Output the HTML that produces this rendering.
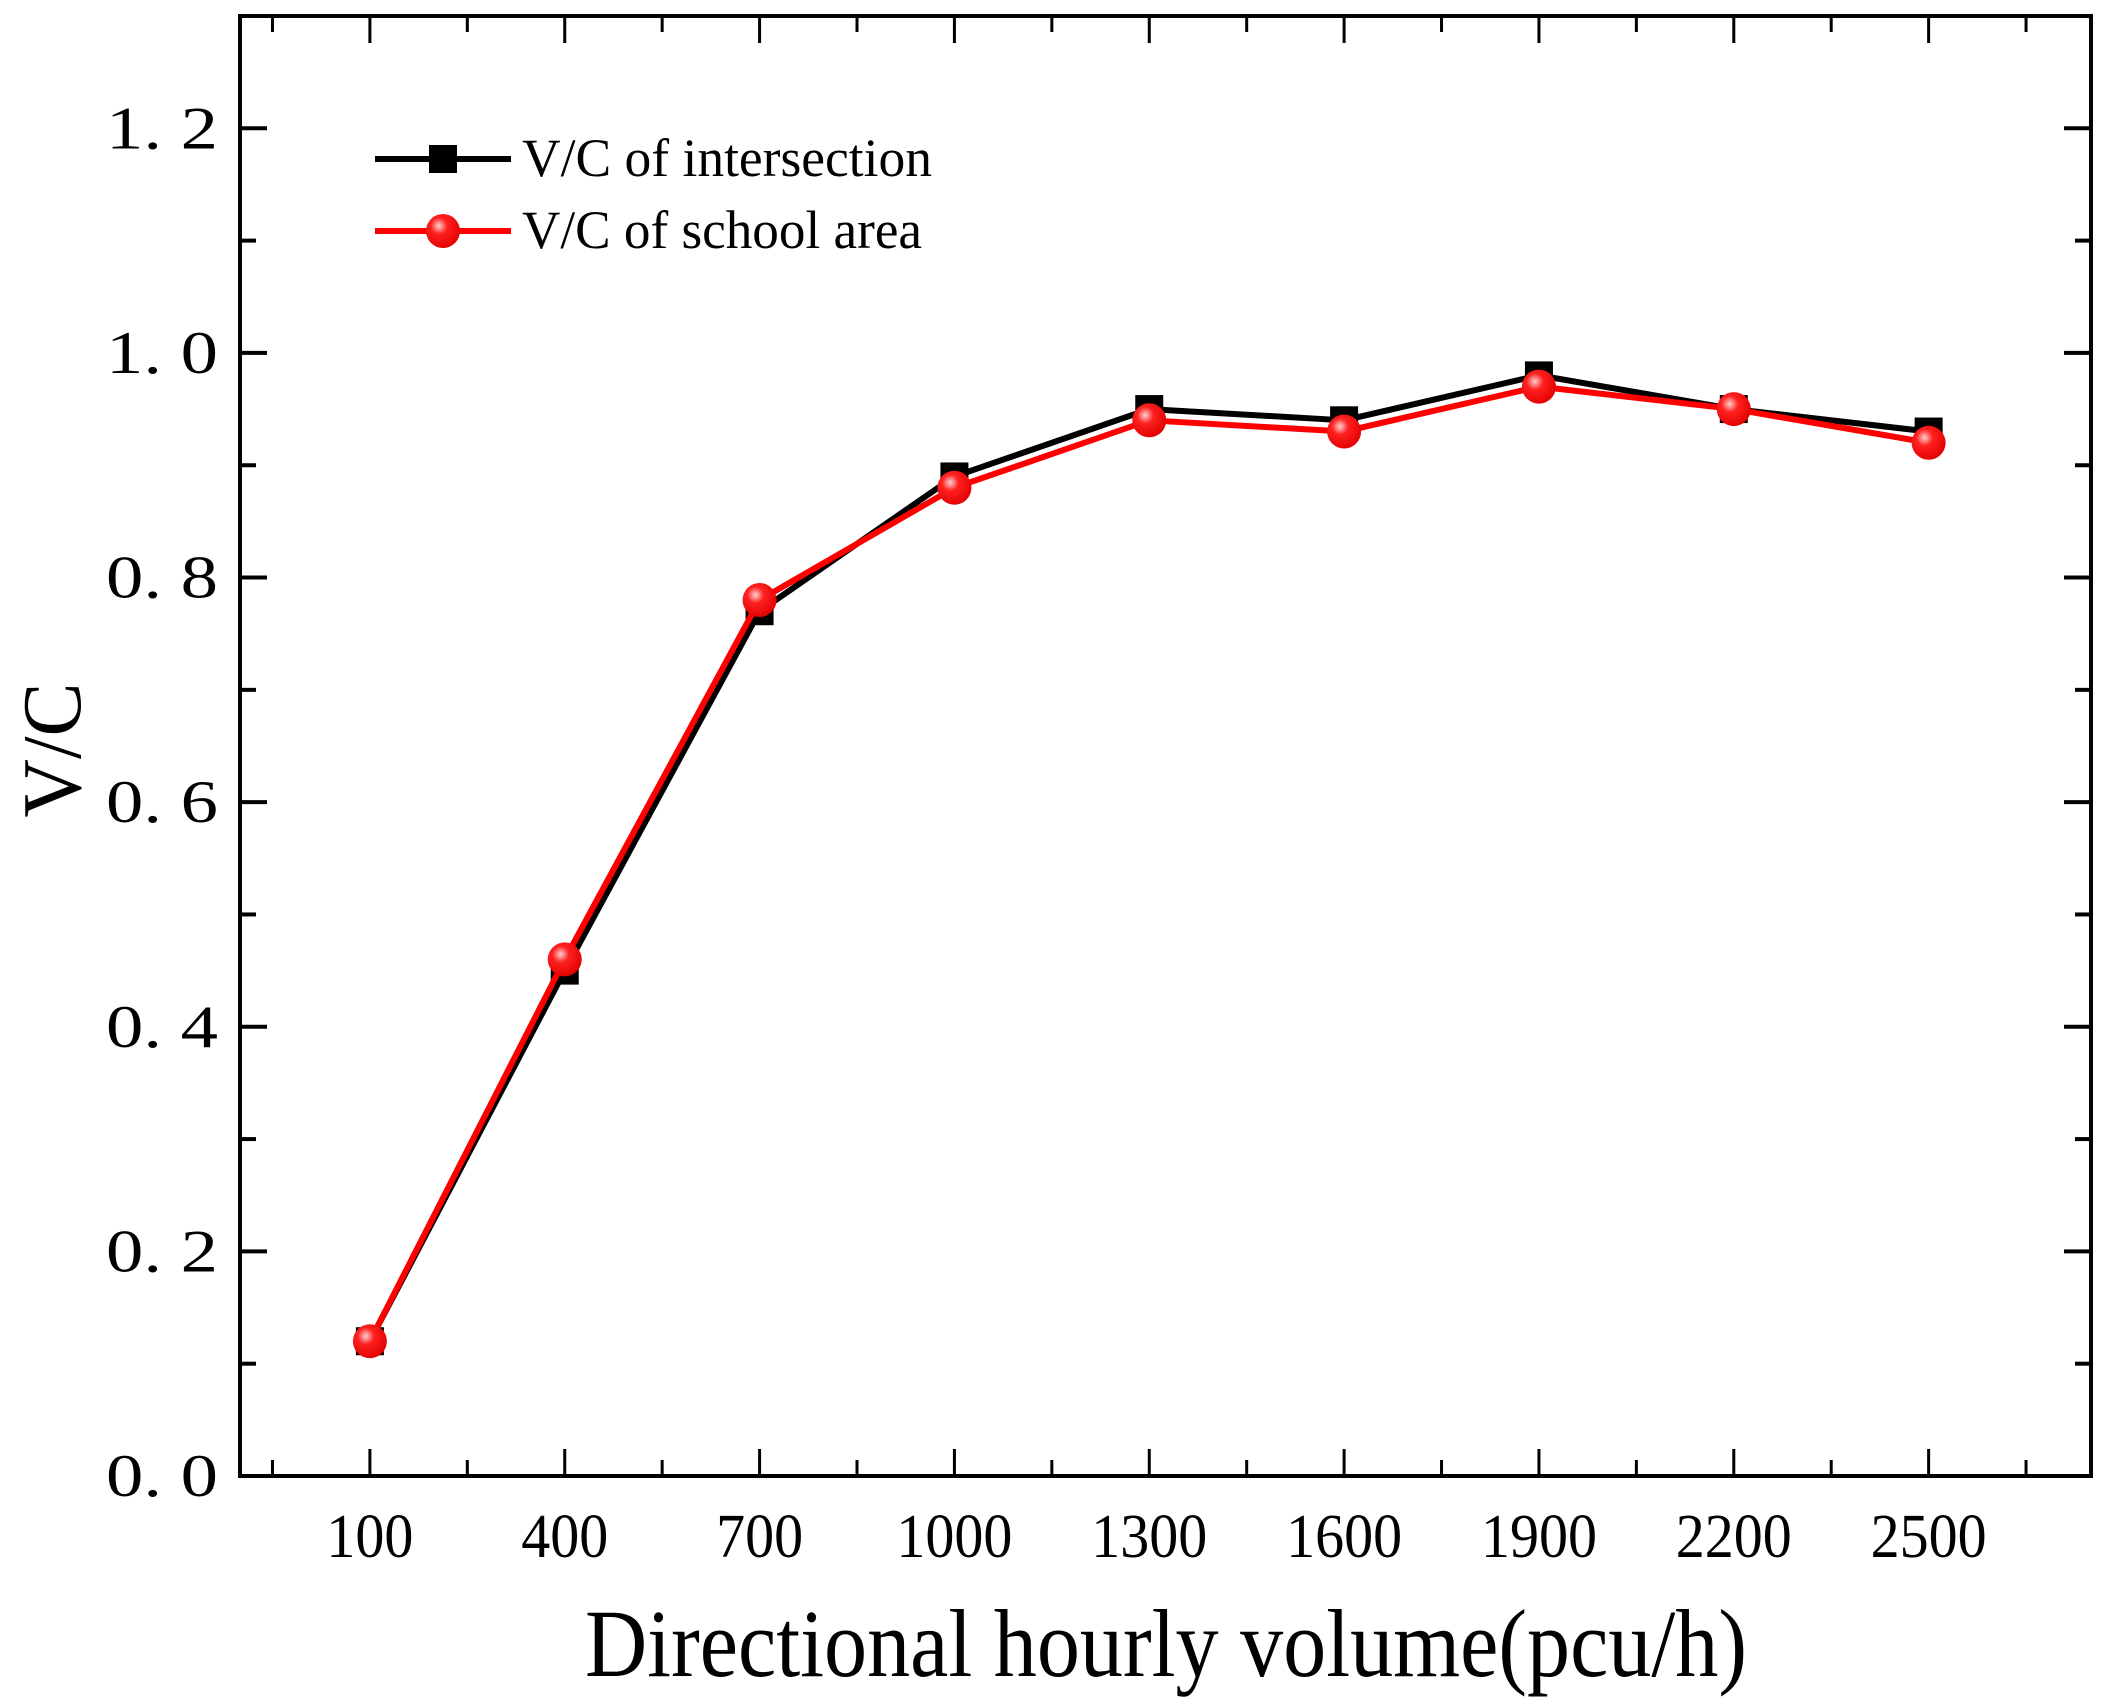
<!DOCTYPE html>
<html><head><meta charset="utf-8"><style>html,body{margin:0;padding:0;background:#fff}svg{display:block}</style></head>
<body>
<svg id="chart" width="2107" height="1702" viewBox="0 0 2107 1702" xmlns="http://www.w3.org/2000/svg">
<defs>
<radialGradient id="rg" cx="0.38" cy="0.35" r="0.7">
<stop offset="0" stop-color="#ffd0d0"/><stop offset="0.35" stop-color="#ff2020"/><stop offset="1" stop-color="#e00000"/>
</radialGradient>
</defs>
<rect x="0" y="0" width="2107" height="1702" fill="#fff"/>
<g id="plot"></g>
</svg>
<script>
const categories = [100, 400, 700, 1000, 1300, 1600, 1900, 2200, 2500];
const intersectionValues = [0.12, 0.45, 0.77, 0.89, 0.95, 0.94, 0.98, 0.95, 0.93];
const schoolValues = [0.12, 0.46, 0.78, 0.88, 0.94, 0.93, 0.97, 0.95, 0.92];
const yTickValues = [0.0, 0.2, 0.4, 0.6, 0.8, 1.0, 1.2];
const yTickLabels = ["0. 0", "0. 2", "0. 4", "0. 6", "0. 8", "1. 0", "1. 2"];
const xTickLabels = ["100", "400", "700", "1000", "1300", "1600", "1900", "2200", "2500"];

const L = 240, R = 2091, T = 16, B = 1476;
const xMin = -100, xMax = 2750, yMin = 0, yMax = 1.3;
const xs = v => L + (v - xMin) / (xMax - xMin) * (R - L);
const ys = v => B - (v - yMin) / (yMax - yMin) * (B - T);
const NS = "http://www.w3.org/2000/svg";
const g = document.getElementById('plot');
function mk(tag, attrs, parent) {
  const e = document.createElementNS(NS, tag);
  for (const k in attrs) e.setAttribute(k, attrs[k]);
  (parent || g).appendChild(e);
  return e;
}
const FONT = '"Liberation Serif", "Noto Serif CJK SC", serif';

// frame
const frame = mk('rect', {x: L, y: T, width: R - L, height: B - T, fill: 'none', stroke: '#000', 'stroke-width': 4});



// x ticks (major at categories, minor in between), on bottom and top
for (let v = -50; v <= 2700; v += 150) {
  const major = categories.includes(v);
  const len = major ? 27 : 16;
  const x = xs(v);
  const t1 = mk('line', {x1: x, y1: B, x2: x, y2: B - len, stroke: '#000', 'stroke-width': 3});
  
  
  const t2 = mk('line', {x1: x, y1: T, x2: x, y2: T + len, stroke: '#000', 'stroke-width': 3});
  
  
}
categories.forEach((c, i) => {
  const t = mk('text', {x: xs(c), y: 1557, 'font-family': FONT, 'font-size': 62, 'text-anchor': 'middle', textLength: xTickLabels[i].length * 29, lengthAdjust: 'spacingAndGlyphs', fill: '#000'});
  t.textContent = xTickLabels[i];
  
  
});

// y ticks
for (let k = 1; k <= 12; k++) {
  const v = k / 10;
  const major = k % 2 === 0;
  const len = major ? 27 : 16;
  const y = ys(v);
  const t1 = mk('line', {x1: L, y1: y, x2: L + len, y2: y, stroke: '#000', 'stroke-width': 4});
  
  
  const t2 = mk('line', {x1: R, y1: y, x2: R - len, y2: y, stroke: '#000', 'stroke-width': 4});
  
  
}
yTickValues.forEach((v, i) => {
  const t = mk('text', {x: 218, y: ys(v) + 20, 'font-family': FONT, 'font-size': 60, 'text-anchor': 'end', textLength: 112, lengthAdjust: 'spacingAndGlyphs', fill: '#000'});
  t.textContent = yTickLabels[i];
  
  
});

// axis titles
const xt = mk('text', {x: 1166, y: 1676, 'font-family': FONT, 'font-size': 96, 'text-anchor': 'middle', textLength: 1162, lengthAdjust: 'spacingAndGlyphs', fill: '#000'});
xt.textContent = 'Directional hourly volume(pcu/h)';


const yt = mk('text', {x: 0, y: 0, transform: 'translate(80,750) rotate(-90)', 'font-family': FONT, 'font-size': 84, 'text-anchor': 'middle', textLength: 135, lengthAdjust: 'spacingAndGlyphs', fill: '#000'});
yt.textContent = 'V/C';



// series
function pts(vals) { return categories.map((c, i) => xs(c) + ',' + ys(vals[i])).join(' '); }
const l1 = mk('polyline', {points: pts(intersectionValues), fill: 'none', stroke: '#000', 'stroke-width': 6, 'stroke-linejoin': 'round'});


categories.forEach((c, i) => {
  const m = mk('rect', {x: xs(c) - 14, y: ys(intersectionValues[i]) - 14, width: 28, height: 28, fill: '#000'});
  
  
});
const l2 = mk('polyline', {points: pts(schoolValues), fill: 'none', stroke: '#ff0000', 'stroke-width': 6, 'stroke-linejoin': 'round'});


categories.forEach((c, i) => {
  const m = mk('circle', {cx: xs(c), cy: ys(schoolValues[i]), r: 17, fill: 'url(#rg)'});
  
  
});

// legend
const leg = mk('g', {});


const ll1 = mk('line', {x1: 375, y1: 159, x2: 511, y2: 159, stroke: '#000', 'stroke-width': 6}, leg);


const lm1 = mk('rect', {x: 429, y: 145, width: 28, height: 28, fill: '#000'}, leg);


const lt1 = mk('text', {x: 522, y: 176, 'font-family': FONT, 'font-size': 54, textLength: 410, lengthAdjust: 'spacingAndGlyphs', fill: '#000'}, leg);
lt1.textContent = 'V/C of intersection';


const ll2 = mk('line', {x1: 375, y1: 231, x2: 511, y2: 231, stroke: '#ff0000', 'stroke-width': 6}, leg);


const lm2 = mk('circle', {cx: 443, cy: 231, r: 17, fill: 'url(#rg)'}, leg);


const lt2 = mk('text', {x: 522, y: 248, 'font-family': FONT, 'font-size': 54, textLength: 400, lengthAdjust: 'spacingAndGlyphs', fill: '#000'}, leg);
lt2.textContent = 'V/C of school area';


</script>
</body></html>
